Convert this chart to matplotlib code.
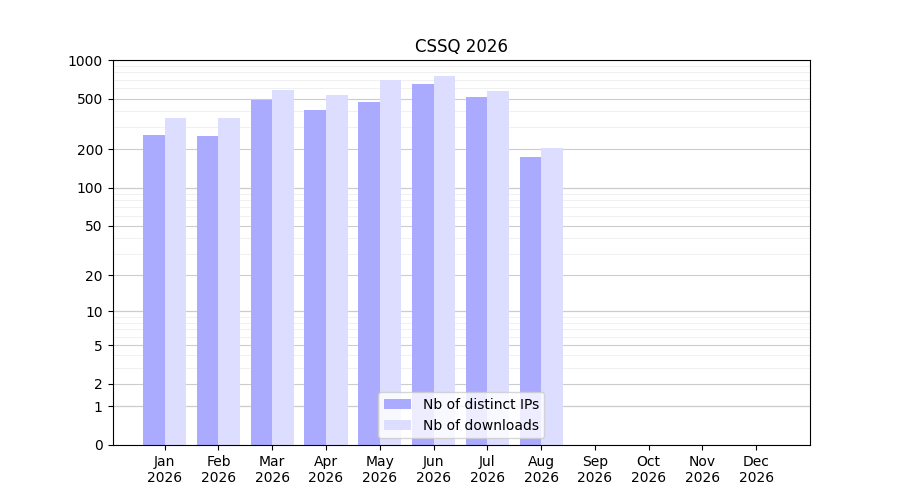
import matplotlib
matplotlib.use("Agg")
import matplotlib.pyplot as plt
import numpy as np

months = ["Jan\n2026", "Feb\n2026", "Mar\n2026", "Apr\n2026", "May\n2026", "Jun\n2026",
          "Jul\n2026", "Aug\n2026", "Sep\n2026", "Oct\n2026", "Nov\n2026", "Dec\n2026"]
distinct_ips = [260, 255, 490, 405, 470, 650, 510, 175, 0, 0, 0, 0]
downloads = [350, 355, 580, 530, 700, 750, 570, 205, 0, 0, 0, 0]
yticks = [0, 1, 2, 5, 10, 20, 50, 100, 200, 500, 1000]

fwd = lambda y: np.log10(np.maximum(y, 0) + 1)
inv = lambda y: 10 ** y - 1

fig, ax = plt.subplots(figsize=(9, 5), dpi=100)
x = np.arange(len(months))
ax.bar(x - 0.2, distinct_ips, width=0.4, color="#aaaaff", label="Nb of distinct IPs", zorder=2)
ax.bar(x + 0.2, downloads, width=0.4, color="#ddddff", label="Nb of downloads", zorder=2)

ax.set_yscale("function", functions=(fwd, inv))
ax.set_ylim(0, 1000)
ax.set_yticks(yticks)
ax.set_yticklabels([str(t) for t in yticks])
minor = [v * d for d in (1, 10, 100) for v in range(2, 10)]
ax.set_yticks(minor, minor=True)
ax.tick_params(axis="y", which="minor", length=0)
ax.grid(True, axis="y", which="major", color="#cccccc", lw=0.8, zorder=0)
ax.grid(True, axis="y", which="minor", color="#eeeeee", lw=0.6, zorder=0)
for v in (1, 10, 100):
    ax.axhline(v, color="#bbbbbb", lw=0.8, zorder=1)

ax.set_xticks(x)
ax.set_xticklabels(months)
ax.set_xlim(-0.97, 12.0)
ax.set_title("CSSQ 2026")
ax.legend(loc="lower center")
fig.savefig("out.png")
